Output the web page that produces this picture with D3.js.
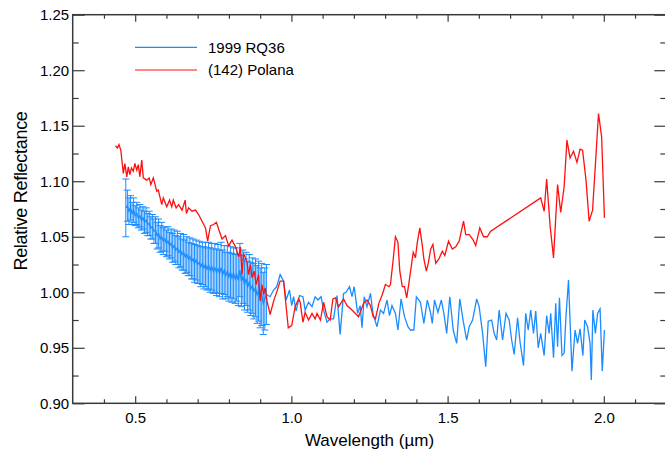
<!DOCTYPE html>
<html>
<head>
<meta charset="utf-8">
<script src="https://cdn.jsdelivr.net/npm/d3@7"></script>
<style>
    body { margin: 0; background: #fff; }
    text { font-family: 'Liberation Sans', Arial, Helvetica, sans-serif; fill: #000; }
</style>
</head>
<body>
<svg id="chart" width="665" height="454"></svg>
<script>
// axis ranges and ticks
const xDomain = [0.3, 2.2];
const yDomain = [0.90, 1.25];
const xMajorTicks = [0.5, 1.0, 1.5, 2.0];
const xMinorTicks = [0.4, 0.6, 0.7, 0.8, 0.9, 1.1, 1.2, 1.3, 1.4, 1.6, 1.7, 1.8, 1.9, 2.1];
const yMajorTicks = [0.90, 0.95, 1.00, 1.05, 1.10, 1.15, 1.20, 1.25];
const yMinorTicks = [0.925, 0.975, 1.025, 1.075, 1.125, 1.175, 1.225];
const seriesNames = ['1999 RQ36', '(142) Polana'];

// 1999 RQ36, visible part with error bars: [wavelength, reflectance, error]
const rq36Visible = [
    [0.470, 1.076, 0.026],
    [0.475, 1.078, 0.014], [0.480, 1.073, 0.012], [0.485, 1.076, 0.011], [0.490, 1.071, 0.010],
    [0.495, 1.074, 0.011], [0.500, 1.069, 0.009], [0.505, 1.071, 0.010], [0.510, 1.067, 0.009],
    [0.515, 1.069, 0.010], [0.520, 1.065, 0.009], [0.525, 1.067, 0.010], [0.530, 1.063, 0.010],
    [0.535, 1.065, 0.011], [0.540, 1.061, 0.010], [0.545, 1.062, 0.011], [0.550, 1.058, 0.010],
    [0.555, 1.059, 0.011], [0.560, 1.055, 0.011], [0.565, 1.056, 0.012], [0.570, 1.051, 0.012],
    [0.575, 1.053, 0.013], [0.580, 1.048, 0.012], [0.585, 1.050, 0.013], [0.590, 1.046, 0.012],
    [0.595, 1.048, 0.011], [0.600, 1.044, 0.012], [0.605, 1.046, 0.013], [0.610, 1.042, 0.012],
    [0.615, 1.044, 0.013], [0.620, 1.040, 0.013], [0.625, 1.042, 0.014], [0.630, 1.038, 0.013],
    [0.635, 1.040, 0.015], [0.640, 1.036, 0.014], [0.645, 1.038, 0.015], [0.650, 1.034, 0.014],
    [0.655, 1.036, 0.016], [0.660, 1.032, 0.015], [0.665, 1.034, 0.016], [0.670, 1.030, 0.015],
    [0.675, 1.032, 0.017], [0.680, 1.028, 0.016], [0.685, 1.030, 0.018], [0.690, 1.026, 0.017],
    [0.695, 1.029, 0.018], [0.700, 1.025, 0.017], [0.705, 1.027, 0.019], [0.710, 1.023, 0.018],
    [0.715, 1.026, 0.019], [0.720, 1.022, 0.019], [0.725, 1.025, 0.020], [0.730, 1.021, 0.019],
    [0.735, 1.024, 0.021], [0.740, 1.020, 0.020], [0.745, 1.023, 0.021], [0.750, 1.019, 0.020],
    [0.755, 1.022, 0.022], [0.760, 1.018, 0.021], [0.765, 1.021, 0.022], [0.770, 1.017, 0.021],
    [0.775, 1.022, 0.023], [0.780, 1.016, 0.022], [0.785, 1.020, 0.022], [0.790, 1.015, 0.021],
    [0.795, 1.019, 0.023], [0.800, 1.014, 0.022], [0.805, 1.018, 0.023], [0.810, 1.013, 0.022],
    [0.815, 1.017, 0.023], [0.820, 1.012, 0.022], [0.825, 1.016, 0.024], [0.830, 1.011, 0.023],
    [0.835, 1.020, 0.024], [0.840, 1.010, 0.023], [0.845, 1.014, 0.024], [0.850, 1.007, 0.023],
    [0.855, 1.012, 0.024], [0.860, 1.005, 0.023], [0.865, 1.009, 0.025], [0.870, 1.003, 0.024],
    [0.875, 1.006, 0.025], [0.880, 1.001, 0.025], [0.885, 1.004, 0.026], [0.890, 0.998, 0.026],
    [0.895, 1.001, 0.027], [0.900, 0.995, 0.027], [0.905, 0.998, 0.028], [0.910, 0.990, 0.028],
    [0.915, 0.994, 0.028], [0.920, 0.998, 0.027]
];

// 1999 RQ36, near-infrared part: [wavelength, reflectance]
const rq36Nir = [
    [0.932, 0.996], [0.943, 1.002], [0.953, 1.005], [0.964, 1.016], [0.975, 1.010], [0.983, 0.993],
    [0.994, 1.002], [1.001, 0.988], [1.007, 0.996], [1.015, 0.983], [1.026, 0.997], [1.037, 0.996],
    [1.044, 0.984], [1.055, 0.991], [1.066, 0.987], [1.076, 0.996], [1.085, 0.993], [1.095, 0.996],
    [1.103, 0.984], [1.114, 0.973], [1.124, 0.976], [1.135, 0.976], [1.146, 0.997], [1.156, 0.962],
    [1.167, 0.999], [1.175, 1.000], [1.186, 1.005], [1.194, 0.996], [1.201, 1.005], [1.212, 0.981],
    [1.220, 0.988], [1.226, 0.968], [1.233, 0.996], [1.242, 0.987], [1.253, 0.999], [1.261, 0.981],
    [1.274, 0.969], [1.285, 0.984], [1.295, 0.981], [1.306, 0.993], [1.314, 0.979], [1.322, 0.988],
    [1.333, 0.981], [1.341, 0.966], [1.351, 0.994], [1.362, 0.978], [1.373, 0.969], [1.381, 0.966],
    [1.392, 0.966], [1.400, 0.996], [1.413, 0.991], [1.424, 0.972], [1.435, 0.993], [1.445, 0.982],
    [1.451, 0.972], [1.458, 0.993], [1.469, 0.982], [1.480, 0.993], [1.488, 0.981], [1.497, 0.963],
    [1.507, 0.996], [1.518, 0.966], [1.529, 0.954], [1.539, 0.994], [1.550, 0.974], [1.561, 0.957],
    [1.569, 0.969], [1.580, 0.975], [1.593, 0.994], [1.601, 0.987], [1.612, 0.963], [1.622, 0.933],
    [1.630, 0.974], [1.641, 0.975], [1.649, 0.963], [1.657, 0.957], [1.665, 0.984], [1.676, 0.957],
    [1.687, 0.981], [1.697, 0.975], [1.705, 0.957], [1.713, 0.944], [1.724, 0.977], [1.732, 0.955],
    [1.743, 0.934], [1.750, 0.981], [1.758, 0.966], [1.766, 0.984], [1.775, 0.963], [1.782, 0.983],
    [1.790, 0.950], [1.798, 0.963], [1.809, 0.943], [1.817, 0.979], [1.825, 0.963], [1.830, 0.981],
    [1.839, 0.941], [1.846, 0.990], [1.852, 0.951], [1.858, 0.995], [1.866, 0.943], [1.873, 0.945],
    [1.879, 0.979], [1.887, 1.011], [1.898, 0.929], [1.908, 0.966], [1.916, 0.954], [1.924, 0.967],
    [1.933, 0.943], [1.939, 0.975], [1.948, 0.969], [1.956, 0.954], [1.960, 0.921], [1.965, 0.984],
    [1.973, 0.963], [1.980, 0.981], [1.988, 0.985], [1.995, 0.929], [2.002, 0.966]
];

// (142) Polana: [wavelength, reflectance]
const polana = [
    [0.437, 1.132], [0.443, 1.130], [0.448, 1.133], [0.454, 1.128], [0.462, 1.107], [0.467, 1.116],
    [0.473, 1.104], [0.478, 1.113], [0.483, 1.106], [0.488, 1.112], [0.494, 1.109], [0.499, 1.116],
    [0.505, 1.110], [0.510, 1.115], [0.515, 1.104], [0.521, 1.119], [0.526, 1.103], [0.537, 1.101],
    [0.545, 1.103], [0.550, 1.097], [0.558, 1.103], [0.569, 1.091], [0.574, 1.092], [0.585, 1.079],
    [0.590, 1.085], [0.601, 1.077], [0.610, 1.083], [0.617, 1.077], [0.622, 1.083], [0.631, 1.076],
    [0.639, 1.079], [0.650, 1.074], [0.660, 1.083], [0.664, 1.071], [0.671, 1.076], [0.682, 1.073],
    [0.693, 1.074], [0.703, 1.070], [0.714, 1.064], [0.725, 1.058], [0.732, 1.046], [0.741, 1.060],
    [0.751, 1.061], [0.760, 1.063], [0.767, 1.057], [0.778, 1.048], [0.789, 1.051], [0.799, 1.042],
    [0.810, 1.047], [0.821, 1.041], [0.831, 1.032], [0.837, 1.041], [0.842, 1.016], [0.847, 1.035],
    [0.858, 1.027], [0.863, 1.016], [0.869, 1.025], [0.874, 1.013], [0.881, 1.019], [0.887, 1.007],
    [0.895, 1.016], [0.900, 0.992], [0.906, 1.007], [0.911, 0.998], [0.916, 1.004], [0.922, 0.992],
    [0.932, 0.980], [0.943, 0.992], [0.954, 1.001], [0.964, 1.010], [0.975, 1.010], [0.990, 0.968],
    [1.001, 0.970], [1.012, 0.987], [1.023, 0.994], [1.028, 0.991], [1.037, 0.973], [1.044, 0.982],
    [1.055, 0.975], [1.066, 0.981], [1.076, 0.976], [1.082, 0.981], [1.093, 0.975], [1.103, 0.991],
    [1.114, 0.978], [1.124, 0.975], [1.133, 0.994], [1.141, 0.995], [1.151, 0.987], [1.167, 0.994],
    [1.178, 0.988], [1.194, 0.984], [1.215, 0.978], [1.231, 0.990], [1.242, 0.993], [1.253, 0.988],
    [1.262, 0.978], [1.269, 0.976], [1.280, 0.990], [1.291, 0.998], [1.301, 1.007], [1.312, 1.005],
    [1.317, 1.007], [1.326, 1.030], [1.333, 1.050], [1.341, 1.045], [1.347, 1.019], [1.355, 1.005],
    [1.362, 1.005], [1.369, 0.995], [1.376, 1.008], [1.390, 1.036], [1.397, 1.031], [1.403, 1.045],
    [1.411, 1.058], [1.419, 1.042], [1.424, 1.030], [1.432, 1.019], [1.438, 1.026], [1.446, 1.039],
    [1.453, 1.043], [1.462, 1.026], [1.472, 1.030], [1.483, 1.037], [1.491, 1.033], [1.503, 1.046],
    [1.515, 1.039], [1.526, 1.041], [1.537, 1.046], [1.551, 1.064], [1.558, 1.052], [1.569, 1.052],
    [1.580, 1.048], [1.590, 1.042], [1.603, 1.058], [1.615, 1.050], [1.627, 1.050], [1.638, 1.055],
    [1.798, 1.085], [1.809, 1.073], [1.817, 1.102], [1.828, 1.060], [1.839, 1.031], [1.852, 1.097],
    [1.862, 1.072], [1.873, 1.095], [1.882, 1.137], [1.892, 1.121], [1.903, 1.127], [1.914, 1.117],
    [1.924, 1.129], [1.932, 1.128], [1.943, 1.101], [1.953, 1.064], [1.964, 1.074], [1.975, 1.124],
    [1.983, 1.161], [1.993, 1.140], [2.002, 1.067]
];

const blueColor = '#1a8cff';
const redColor = '#ff1010';
const axisColor = '#3a3a3a';

const svg = d3.select('#chart');
const mLeft = 72.7, mRight = 666.3, mTop = 14.7, mBottom = 403.3;

const x = d3.scaleLinear().domain(xDomain).range([mLeft, mRight]);
const y = d3.scaleLinear().domain(yDomain).range([mBottom, mTop]);

// axes - IDL style, ticks pointing inward on all four sides
const styleAxis = g => {
    g.select('.domain').remove();
    g.selectAll('.tick line').attr('stroke', axisColor).attr('stroke-width', 1.2);
    g.selectAll('.tick text').attr('font-size', '15px').attr('fill', '#000')
        .attr('font-family', "'Liberation Sans', Arial, sans-serif");
};

svg.append('g').attr('transform', `translate(0,${mBottom})`)
    .call(d3.axisBottom(x).tickValues(xMajorTicks).tickSizeOuter(0).tickSizeInner(-7)
        .tickPadding(9).tickFormat(d3.format('.1f')))
    .call(styleAxis);
svg.append('g').attr('transform', `translate(0,${mBottom})`)
    .call(d3.axisBottom(x).tickValues(xMinorTicks).tickSizeOuter(0).tickSizeInner(-4).tickFormat(''))
    .call(styleAxis);
svg.append('g').attr('transform', `translate(0,${mTop})`)
    .call(d3.axisTop(x).tickValues(xMajorTicks).tickSizeOuter(0).tickSizeInner(-7).tickFormat(''))
    .call(styleAxis);
svg.append('g').attr('transform', `translate(0,${mTop})`)
    .call(d3.axisTop(x).tickValues(xMinorTicks).tickSizeOuter(0).tickSizeInner(-4).tickFormat(''))
    .call(styleAxis);

svg.append('g').attr('transform', `translate(${mLeft},0)`)
    .call(d3.axisLeft(y).tickValues(yMajorTicks).tickSizeOuter(0).tickSizeInner(-12)
        .tickPadding(3.5).tickFormat(d3.format('.2f')))
    .call(styleAxis);
svg.append('g').attr('transform', `translate(${mLeft},0)`)
    .call(d3.axisLeft(y).tickValues(yMinorTicks).tickSizeOuter(0).tickSizeInner(-6).tickFormat(''))
    .call(styleAxis);
svg.append('g').attr('transform', `translate(${mRight},0)`)
    .call(d3.axisRight(y).tickValues(yMajorTicks).tickSizeOuter(0).tickSizeInner(-12).tickFormat(''))
    .call(styleAxis);
svg.append('g').attr('transform', `translate(${mRight},0)`)
    .call(d3.axisRight(y).tickValues(yMinorTicks).tickSizeOuter(0).tickSizeInner(-6).tickFormat(''))
    .call(styleAxis);

// frame
svg.append('rect')
    .attr('x', mLeft).attr('y', mTop)
    .attr('width', mRight - mLeft).attr('height', mBottom - mTop)
    .attr('fill', 'none')
    .attr('stroke', axisColor)
    .attr('stroke-width', 1.5);

// axis titles
svg.append('text')
    .attr('x', (mLeft + mRight) / 2)
    .attr('y', 446)
    .attr('text-anchor', 'middle')
    .attr('font-size', '17px')
    .text('Wavelength (\u00b5m)');

svg.append('text')
    .attr('transform', `translate(27,${(mTop + mBottom) / 2 - 18}) rotate(-90)`)
    .attr('text-anchor', 'middle')
    .attr('font-size', '18px')
    .attr('letter-spacing', '-0.3px')
    .text('Relative Reflectance');

const line = d3.line()
    .x(d => x(d[0]))
    .y(d => y(d[1]))
    .curve(d3.curveLinear);

// RQ36 error bars
const errG = svg.append('g')
    .attr('stroke', blueColor)
    .attr('stroke-width', 1);
errG.selectAll('line.bar')
    .data(rq36Visible)
    .join('line')
    .attr('class', 'bar')
    .attr('x1', d => x(d[0])).attr('x2', d => x(d[0]))
    .attr('y1', d => y(d[1] - d[2])).attr('y2', d => y(d[1] + d[2]));
errG.selectAll('line.capTop')
    .data(rq36Visible)
    .join('line')
    .attr('class', 'capTop')
    .attr('x1', d => x(d[0]) - 3.5).attr('x2', d => x(d[0]) + 3.5)
    .attr('y1', d => y(d[1] + d[2])).attr('y2', d => y(d[1] + d[2]));
errG.selectAll('line.capBot')
    .data(rq36Visible)
    .join('line')
    .attr('class', 'capBot')
    .attr('x1', d => x(d[0]) - 3.5).attr('x2', d => x(d[0]) + 3.5)
    .attr('y1', d => y(d[1] - d[2])).attr('y2', d => y(d[1] - d[2]));

// RQ36 spectrum
svg.append('path')
    .datum(rq36Visible.map(d => [d[0], d[1]]).concat(rq36Nir))
    .attr('d', line)
    .attr('fill', 'none')
    .attr('stroke', blueColor)
    .attr('stroke-width', 1.3);

// Polana spectrum
svg.append('path')
    .datum(polana)
    .attr('d', line)
    .attr('fill', 'none')
    .attr('stroke', redColor)
    .attr('stroke-width', 1.3);

// legend
const legend = svg.append('g');
const legendColors = [blueColor, redColor];
seriesNames.forEach((name, i) => {
    const ly = 47.3 + i * 22.7;
    legend.append('line')
        .attr('x1', 135).attr('x2', 197)
        .attr('y1', ly).attr('y2', ly)
        .attr('stroke', legendColors[i])
        .attr('stroke-width', 1.2);
    legend.append('text')
        .attr('x', 208)
        .attr('y', ly + 5.3)
        .attr('font-size', '15px')
        .text(name);
});
</script>
</body>
</html>
